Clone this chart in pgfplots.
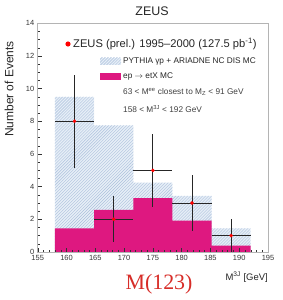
\documentclass[border=0pt]{standalone}
\usepackage{pgfplots}
\pgfplotsset{compat=1.18}
\usetikzlibrary{patterns}
\usepackage{fontspec}
\setmainfont{Liberation Sans}
\newfontfamily\seriffont{Liberation Serif}
\definecolor{mag}{RGB}{222,24,128}
\definecolor{hatchfill}{RGB}{230,238,247}
\definecolor{hatchline}{RGB}{172,192,220}
\definecolor{framegray}{RGB}{180,180,180}
\definecolor{titlered}{RGB}{215,45,40}
\begin{document}
\begin{tikzpicture}[x=1bp,y=1bp]
\path[use as bounding box] (0,0) rectangle (283,300);
\begin{axis}[
  at={(37.7bp,48bp)}, anchor=south west,
  width=230.3bp, height=228.7bp, scale only axis,
  xmin=155, xmax=195, ymin=0, ymax=14,
  xtick={155,160,...,195}, ytick={0,2,...,14},
  minor x tick num=4, minor y tick num=3,
  tick align=inside, axis on top, tick pos=left,
  axis line style={framegray, line width=0.5pt},
  tick style={black!80, line width=0.4pt},
  major tick length=4bp, minor tick length=2bp,
  ticklabel style={font=\fontsize{7.5}{8}\selectfont, text=black!80},
  /pgf/number format/assume math mode=true,
  /pgf/number format/1000 sep={},
]
\addplot[const plot, fill=hatchfill, draw=none,
  postaction={pattern=north east lines, pattern color=hatchline}]
  coordinates {(158,9.5) (164.8,7.75) (171.6,4.25) (178.4,3.43) (185.2,1.45) (192,1.45)} \closedcycle;
\addplot[const plot, fill=mag, draw=none]
  coordinates {(158,1.45) (164.8,2.58) (171.6,3.3) (178.4,1.92) (185.2,0.39) (192,0.39)} \closedcycle;
\addplot[only marks, mark=*, mark size=1.6bp, red, mark options={fill=red, draw=red},
  error bars/.cd, x dir=both, x explicit, y dir=both, y explicit,
  error bar style={black!85, line width=0.9pt}, error mark=none]
  coordinates {
  (161.4,8) +- (3.4,2.83)
  (168.2,2) +- (3.4,1.41)
  (175,5) +- (3.4,2.24)
  (181.8,3) +- (3.4,1.73)
  (188.6,1) +- (3.4,1.0)
  };
\end{axis}
% title and labels
\node[font=\fontsize{12.5}{14}\selectfont, text=black!85] at (152,289) {ZEUS};
\node[rotate=90, font=\fontsize{12}{14}\selectfont, text=black!85] at (9,211) {Number of Events};
\node[anchor=east, font=\fontsize{9.5}{11}\selectfont, text=black!85, inner sep=0pt] at (268,23) {M\textsuperscript{3J} [GeV]};
\node[font=\seriffont\fontsize{22}{24}\selectfont, text=titlered] at (159,16) {M(123)};
% legend
\fill[red] (68,256) circle (2.6);
\node[anchor=west, inner sep=0pt, font=\fontsize{11.2}{12}\selectfont, text=black!85] at (73,256) {ZEUS (prel.) 1995--2000 (127.5 pb\textsuperscript{-1})};
\fill[hatchfill] (100,235) rectangle (121,242);
\fill[pattern=north east lines, pattern color=hatchline] (100,235) rectangle (121,242);
\node[anchor=west, inner sep=0pt, font=\fontsize{8.3}{10}\selectfont, text=black!85] at (123,238.5) {PYTHIA γp + ARIADNE NC DIS MC};
\fill[mag] (100,220) rectangle (121,227);
\node[anchor=west, inner sep=0pt, font=\fontsize{8.3}{10}\selectfont, text=black!85] at (123,223.5) {ep $\rightarrow$ etX MC};
\node[anchor=west, inner sep=0pt, font=\fontsize{8.3}{10}\selectfont, text=black!75] at (123,208) {63 < M\textsuperscript{ee} closest to M\textsubscript{Z} < 91 GeV};
\node[anchor=west, inner sep=0pt, font=\fontsize{8.3}{10}\selectfont, text=black!75] at (123,191) {158 < M\textsuperscript{3J} < 192 GeV};
\end{tikzpicture}
\end{document}
